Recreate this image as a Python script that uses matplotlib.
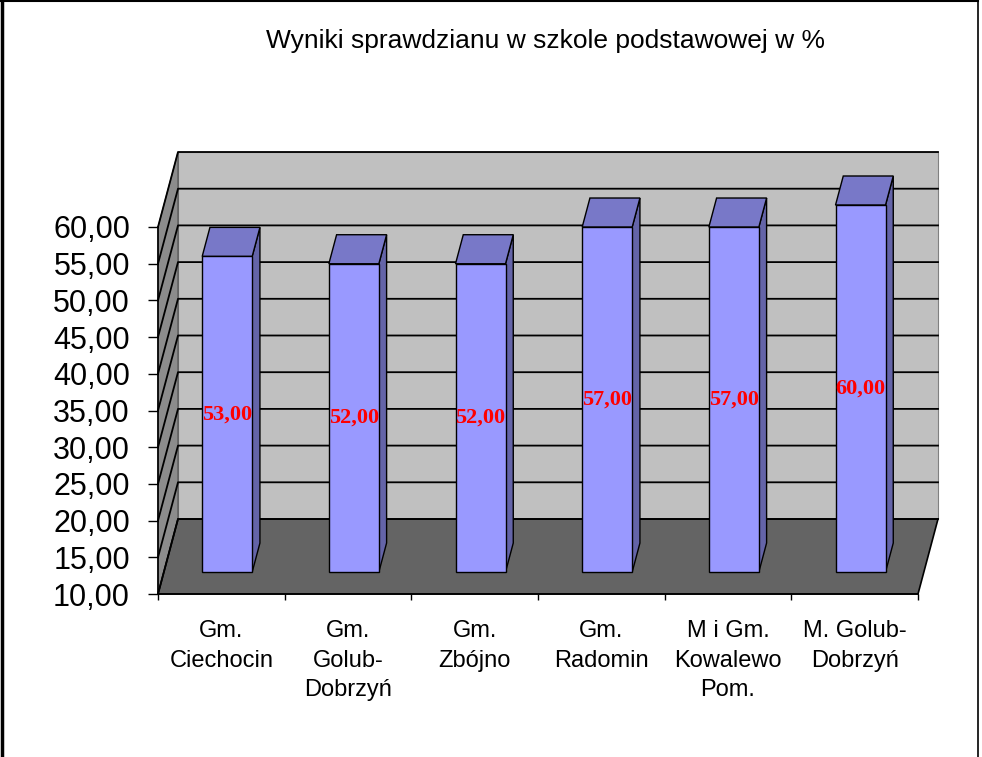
import matplotlib
matplotlib.use("Agg")
import matplotlib.pyplot as plt
from matplotlib.patches import Polygon
from matplotlib.lines import Line2D
import numpy as np

plt.rcParams['font.family'] = ['Liberation Sans', 'DejaVu Sans']

# ---- data ----
title = "Wyniki sprawdzianu w szkole podstawowej w %"
categories = ["Gm.\nCiechocin", "Gm.\nGolub-\nDobrzyń", "Gm.\nZbójno",
              "Gm.\nRadomin", "M i Gm.\nKowalewo\nPom.", "M. Golub-\nDobrzyń"]
values = [53, 52, 52, 57, 57, 60]
y_ticks = [10, 15, 20, 25, 30, 35, 40, 45, 50, 55, 60]
y_tick_labels = ["10,00", "15,00", "20,00", "25,00", "30,00", "35,00",
                 "40,00", "45,00", "50,00", "55,00", "60,00"]
data_labels = ["53,00", "52,00", "52,00", "57,00", "57,00", "60,00"]

# ---- figure ----
W_PX, H_PX = 982, 757
fig = plt.figure(figsize=(W_PX / 100, H_PX / 100), dpi=100)
fig.patch.set_facecolor("white")

ax_l, ax_r, ax_b, ax_t = 158, 918, 594, 227
ax = fig.add_axes([ax_l / W_PX, (H_PX - ax_b) / H_PX,
                   (ax_r - ax_l) / W_PX, (ax_b - ax_t) / H_PX])
n = len(categories)
ymin, ymax = y_ticks[0], y_ticks[-1]
ax.set_xlim(0, n)
ax.set_ylim(ymin, ymax)
ax.patch.set_visible(False)

# oblique depth offsets (px -> data units)
px_per_cat = (ax_r - ax_l) / n
px_per_val = (ax_b - ax_t) / (ymax - ymin)
DX = 20 / px_per_cat
DY = 75 / px_per_val

def proj(x, v, d):
    return (x + d * DX, v + d * DY)

def poly(pts, fc, ec="black", lw=1.0, z=1):
    p = Polygon(pts, closed=True, facecolor=fc, edgecolor=ec, linewidth=lw,
                zorder=z, clip_on=False, joinstyle="miter")
    ax.add_patch(p)

# walls & floor
poly([proj(0, ymin, 1), proj(n, ymin, 1), proj(n, ymax, 1), proj(0, ymax, 1)],
     "#c0c0c0", ec="#808080", lw=0.8, z=0.5)
poly([proj(0, ymin, 0), proj(0, ymin, 1), proj(0, ymax, 1), proj(0, ymax, 0)],
     "#8c8c8c", ec="#505050", lw=0.8, z=0.5)
poly([proj(0, ymin, 0), proj(n, ymin, 0), proj(n, ymin, 1), proj(0, ymin, 1)],
     "#646464", ec="black", lw=1.2, z=0.6)

# gridlines on left + back wall
for v in y_ticks:
    xs, ys = zip(proj(0, v, 0), proj(0, v, 1), proj(n, v, 1))
    ax.add_line(Line2D(xs, ys, color="black", lw=1.3, zorder=0.8, clip_on=False))

# bars
BW = 50 / px_per_cat
d0, d1 = 0.293, 0.68
for i, val in enumerate(values):
    x0 = i + 0.5 - BW / 2
    x1 = i + 0.5 + BW / 2
    poly([proj(x1, ymin, d0), proj(x1, ymin, d1), proj(x1, val, d1), proj(x1, val, d0)],
         "#6464a8", lw=1.0, z=3)
    poly([proj(x0, val, d0), proj(x1, val, d0), proj(x1, val, d1), proj(x0, val, d1)],
         "#7878c8", lw=1.0, z=3)
    poly([proj(x0, ymin, d0), proj(x1, ymin, d0), proj(x1, val, d0), proj(x0, val, d0)],
         "#9999ff", lw=1.0, z=3.1)
    lx, ly = proj(i + 0.5, (ymin + val) / 2, d0)
    ax.text(lx, ly, data_labels[i], color="#ff0000", fontsize=16, fontweight="bold",
            family=["Liberation Serif", "DejaVu Serif"], ha="center", va="center",
            zorder=5, clip_on=False)

# axes / ticks
for s in ("top", "right"):
    ax.spines[s].set_visible(False)
for s in ("left", "bottom"):
    ax.spines[s].set_color("black")
    ax.spines[s].set_linewidth(1.2)
    ax.spines[s].set_zorder(2)

ax.set_yticks(y_ticks)
ax.set_yticklabels(y_tick_labels)
ax.tick_params(axis="y", length=7.2, width=1, pad=13, labelsize=22, colors="black")

ax.set_xticks(range(n + 1))
ax.set_xticklabels([""] * (n + 1))
ax.set_xticks([i + 0.5 for i in range(n)], minor=True)
ax.set_xticklabels(categories, minor=True)
ax.tick_params(axis="x", which="major", length=4.3, width=1)
ax.tick_params(axis="x", which="minor", length=0, pad=19, labelsize=17)
for lbl in ax.get_xticklabels(minor=True):
    lbl.set_linespacing(1.42)
    lbl.set_multialignment("center")

# title
fig.text(545 / W_PX, 1 - 41 / H_PX, title, ha="center", va="center", fontsize=19)

# chart border
fig.add_artist(Line2D([1.5 / W_PX, 1.5 / W_PX], [0, 1], transform=fig.transFigure,
                      color="black", lw=2.5))
fig.add_artist(Line2D([0, 978 / W_PX], [1 - 0.8 / H_PX, 1 - 0.8 / H_PX],
                      transform=fig.transFigure, color="black", lw=1.5))
fig.add_artist(Line2D([978 / W_PX, 978 / W_PX], [0, 1], transform=fig.transFigure,
                      color="black", lw=1.2))

fig.savefig("out.png", dpi=100)
